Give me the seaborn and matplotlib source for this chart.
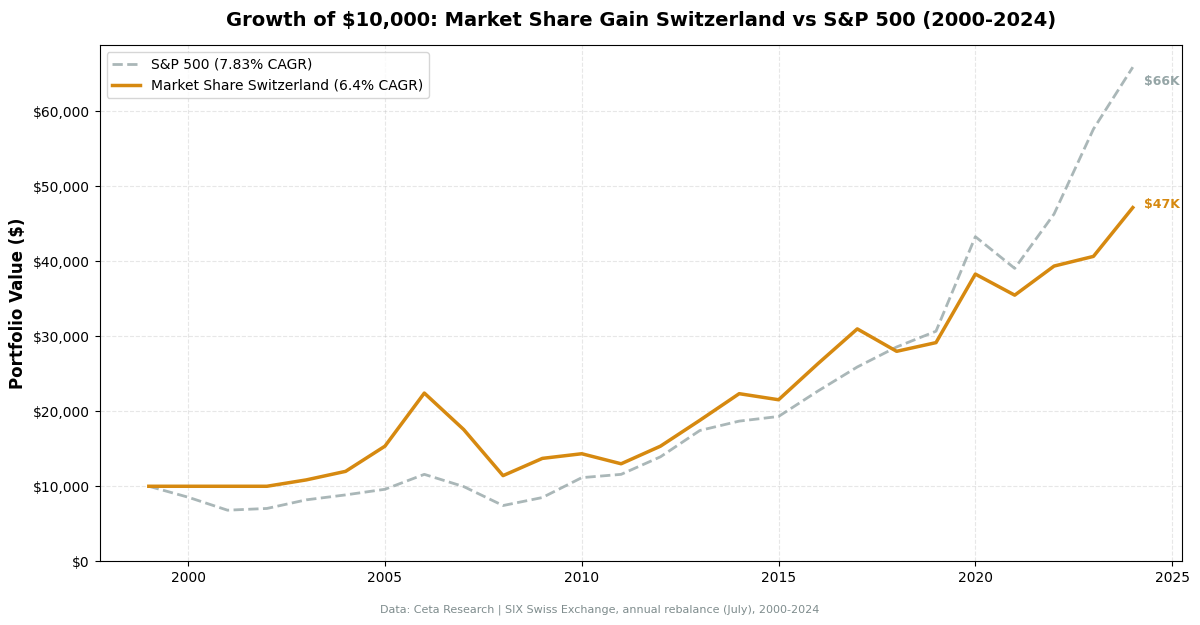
import numpy as np
import pandas as pd
import matplotlib
matplotlib.use("Agg")
import matplotlib.pyplot as plt
import seaborn as sns

years = list(range(1999, 2025))
sp500 = [10000, 8540, 6810, 7040, 8190, 8850, 9600, 11590, 9960, 7430,
         8500, 11150, 11590, 13930, 17440, 18690, 19310, 22700, 25910, 28580,
         30680, 43290, 39060, 46320, 57640, 65900]
swiss = [10000, 10000, 10000, 10000, 10850, 11990, 15350, 22430, 17570, 11420,
         13720, 14340, 13000, 15350, 18800, 22350, 21540, 26350, 30990, 28000,
         29160, 38300, 35490, 39370, 40660, 47170]
sp_label = "S&P 500 (7.83% CAGR)"
sw_label = "Market Share Switzerland (6.4% CAGR)"
grey = "#95a5a6"
orange = "#d68910"

plt.rcParams['font.family'] = ['DejaVu Sans']
fig, ax = plt.subplots(figsize=(12, 6.25), dpi=100)

df = pd.DataFrame({"year": years, "sp": sp500, "sw": swiss})
sns.lineplot(data=df, x="year", y="sp", ax=ax, color=grey, lw=2,
             linestyle="--", alpha=0.8, label=sp_label)
sns.lineplot(data=df, x="year", y="sw", ax=ax, color=orange, lw=2.5,
             label=sw_label)

ax.set_ylim(bottom=0)
# end labels, nudged a little as in the original
ax.annotate(f"${sp500[-1]/1000:.0f}K", (years[-1], sp500[-1]), xytext=(8, -10),
            textcoords="offset points", color=grey, fontsize=9,
            fontweight="bold", va="center")
ax.annotate(f"${swiss[-1]/1000:.0f}K", (years[-1], swiss[-1]), xytext=(8, 2),
            textcoords="offset points", color=orange, fontsize=9,
            fontweight="bold", va="center")

ax.yaxis.set_major_formatter(matplotlib.ticker.FuncFormatter(lambda v, p: f"${v:,.0f}"))
ax.grid(True, linestyle="--", alpha=0.3)
ax.set_xlabel("")
ax.set_ylabel("Portfolio Value ($)", fontsize=12, fontweight="bold")
ax.set_title("Growth of $10,000: Market Share Gain Switzerland vs S&P 500 (2000-2024)",
             fontsize=14, fontweight="bold", pad=14)
ax.tick_params(labelsize=10)
ax.legend(loc="upper left", fontsize=10)

fig.text(0.5, 0.02, "Data: Ceta Research | SIX Swiss Exchange, annual rebalance (July), 2000-2024",
         ha="center", fontsize=8, color="#7f8c8d")
plt.subplots_adjust(left=0.083, right=0.985, top=0.928, bottom=0.102)
plt.savefig("out.png", dpi=100)
